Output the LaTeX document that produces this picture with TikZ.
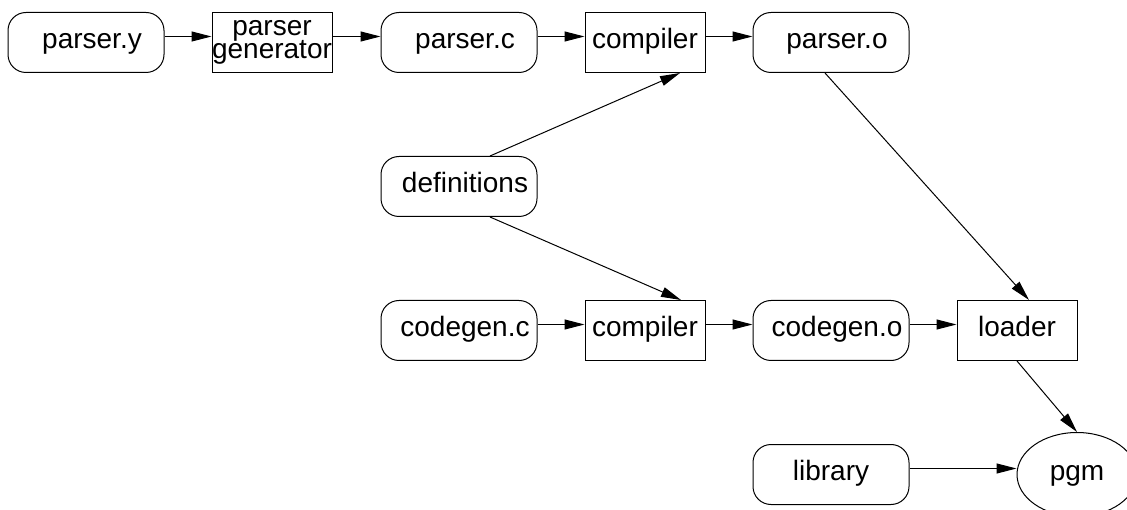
\documentclass[tikz,border=0pt]{standalone}
\usepackage{fontspec}
\setmainfont{Liberation Sans}
\usetikzlibrary{shapes.geometric,arrows.meta,calc}
\begin{document}
\begin{tikzpicture}[x=1pt,y=-1pt,
  lbl/.style={font=\fontsize{28}{24}\selectfont, text height=19pt, text depth=7pt},
  file/.style={lbl, draw, line width=1pt, inner sep=0pt, rounded corners=18pt,
               minimum width=156pt, minimum height=60pt},
  tool/.style={lbl, draw, line width=1pt, inner sep=0pt,
               minimum width=120pt, minimum height=60pt},
  edge/.style={line width=1pt, -{Triangle[length=20pt,width=10pt]}},
]
\useasboundingbox (0,0) rectangle (1127,510);
\clip (0,0) rectangle (1127,510);

% top row: parser build
\node[file] (py)   at (86,42.5)  {\hspace*{12pt}parser.y};
\node[draw, line width=1pt, inner sep=0pt, minimum width=120pt, minimum height=60pt,
      align=center, font=\fontsize{28}{24}\selectfont] (pgen) at (272,42.5) {parser\\[-0.5pt]generator};
\node[file] (pc)   at (459,42.5) {\hspace*{12pt}parser.c};
\node[tool] (comp1) at (645,42.5) {compiler};
\node[file] (po)   at (831,42.5) {\hspace*{12pt}parser.o};

% shared definitions
\node[file] (defs) at (459,186.5) {\hspace*{12pt}definitions};

% middle row: code generator build and link
\node[file] (cgc)  at (459,330.5) {\hspace*{12pt}codegen.c};
\node[tool] (comp2) at (645,330.5) {compiler};
\node[file] (cgo)  at (831,330.5) {\hspace*{12pt}codegen.o};
\node[tool] (ld)   at (1017,330.5) {loader};

% bottom row
\node[file] (lib)  at (831,474.5) {library};
\node[draw, line width=1pt, ellipse, inner sep=0pt, minimum width=120pt, minimum height=84pt,
      lbl] (pgm) at (1077,474.5) {pgm};

% horizontal connectors
\draw[edge] ($(py.east)+(0,-6)$)    -- ($(pgen.west)+(0,-6)$);
\draw[edge] ($(pgen.east)+(0,-6)$)  -- ($(pc.west)+(0,-6)$);
\draw[edge] ($(pc.east)+(0,-6)$)    -- ($(comp1.west)+(0,-6)$);
\draw[edge] ($(comp1.east)+(0,-6)$) -- ($(po.west)+(0,-6)$);
\draw[edge] ($(cgc.east)+(0,-6)$)   -- ($(comp2.west)+(0,-6)$);
\draw[edge] ($(comp2.east)+(0,-6)$) -- ($(cgo.west)+(0,-6)$);
\draw[edge] ($(cgo.east)+(0,-6)$)   -- ($(ld.west)+(0,-6)$);
\draw[edge] ($(lib.east)+(0,-6)$)   -- ($(pgm.west)+(0,-6)$);

% diagonal connectors
\draw[edge] ($(defs.north)+(31,0)$) -- ($(comp1.south)+(35,0)$);
\draw[edge] ($(defs.south)+(31,0)$) -- ($(comp2.north)+(36,0)$);
\draw[edge] ($(po.south)+(-6,0)$)   -- ($(ld.north)+(12,0)$);
\draw[edge] (ld.south) -- (pgm.north);
\end{tikzpicture}
\end{document}
